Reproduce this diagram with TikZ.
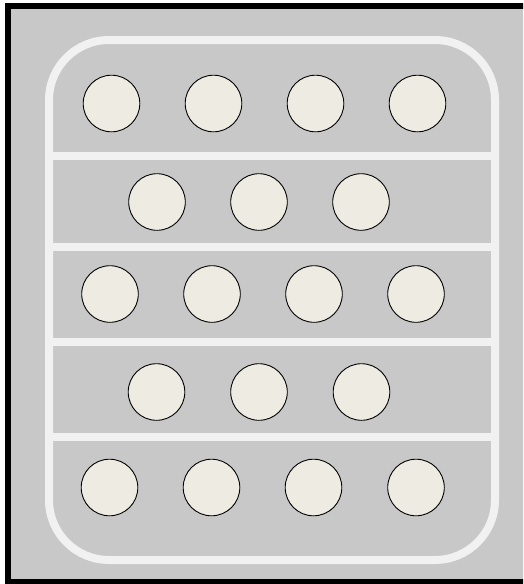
\documentclass[tikz,border=0pt]{standalone}
\definecolor{bggray}{HTML}{C8C8C8}
\definecolor{lanewhite}{HTML}{F1F1F1}
\definecolor{ballfill}{HTML}{EEECE2}
\tikzset{
  ball/.style={circle, draw=black, line width=0.9pt, fill=ballfill, minimum size=56.6pt, inner sep=0pt},
  lane/.style={draw=lanewhite, line width=8pt},
}
\begin{document}
\begin{tikzpicture}[x=1pt,y=-1pt]
\useasboundingbox (0,0) rectangle (523,584);
\clip (0,0) rectangle (523,584);
\fill[white] (0,0) rectangle (523,584);
\draw[line width=6pt, fill=bggray] (8,6) rectangle (540,582);
\draw[lane, rounded corners=60pt] (49,40) rectangle (495,560);
\foreach \y in {156,247,342,437} {
  \draw[lane, line cap=butt] (49,\y) -- (495,\y);
}
% rows
\foreach \x [count=\i] in {111.5,213.5,315.5,417.5} { \node[ball] (a\i) at (\x,103.5) {}; }
\foreach \x [count=\i] in {157,259,361} { \node[ball] (b\i) at (\x,202) {}; }
\foreach \x [count=\i] in {110,212,314,416} { \node[ball] (c\i) at (\x,294) {}; }
\foreach \x [count=\i] in {156.5,259,361.5} { \node[ball] (d\i) at (\x,392) {}; }
\foreach \x [count=\i] in {109.5,211.5,313.5,416} { \node[ball] (e\i) at (\x,487.5) {}; }
\end{tikzpicture}
\end{document}
